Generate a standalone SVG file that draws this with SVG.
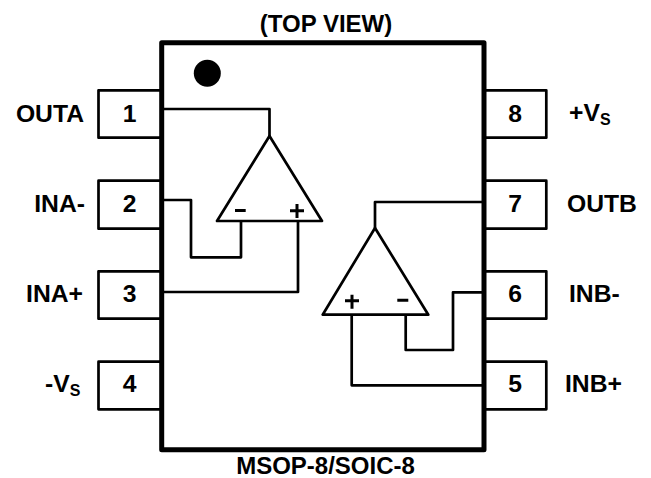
<svg xmlns="http://www.w3.org/2000/svg" width="651" height="478" viewBox="0 0 651 478">
<style>
text{font-family:"Liberation Sans",Arial,sans-serif;font-weight:700;font-size:24.7px;fill:#000}
.m{text-anchor:middle}
.e{text-anchor:end}
.pin{fill:#fff;stroke:#000;stroke-width:2.7;stroke-linejoin:round}
.w{fill:none;stroke:#000;stroke-width:2.7;stroke-linejoin:round}
.s{fill:none;stroke:#000;stroke-width:3}
.sub{font-size:16px}
.cap{font-size:24px}
</style>
<rect width="651" height="478" fill="#fff"/>
<g id="pin1"><rect class="pin" x="98.5" y="90.3" width="63" height="47.4"/><text class="m" x="129.5" y="122">1</text><text class="e" x="84" y="122">OUTA</text></g>
<g id="pin2"><rect class="pin" x="98.5" y="180.7" width="63" height="48"/><text class="m" x="129.5" y="212">2</text><text class="e" x="85" y="212">INA-</text></g>
<g id="pin3"><rect class="pin" x="98.5" y="271.3" width="63" height="47.4"/><text class="m" x="129.5" y="302">3</text><text class="e" x="83" y="302">INA+</text></g>
<g id="pin4"><rect class="pin" x="98.5" y="361.7" width="63" height="47.6"/><text class="m" x="129.5" y="392">4</text><text x="45" y="392">-V<tspan class="sub" dy="4">S</tspan></text></g>
<g id="pin8"><rect class="pin" x="484" y="90.3" width="62.3" height="47.4"/><text class="m" x="515" y="122">8</text><text x="569" y="121">+V<tspan class="sub" dy="4">S</tspan></text></g>
<g id="pin7"><rect class="pin" x="484" y="180.7" width="62.3" height="48"/><text class="m" x="515" y="212">7</text><text x="567" y="212">OUTB</text></g>
<g id="pin6"><rect class="pin" x="484" y="271.3" width="62.3" height="47.4"/><text class="m" x="515" y="302">6</text><text x="569" y="302">INB-</text></g>
<g id="pin5"><rect class="pin" x="484" y="361.7" width="62.3" height="47.6"/><text class="m" x="515" y="392">5</text><text x="565" y="392">INB+</text></g>
<g id="body"><rect x="161.7" y="42.7" width="322.3" height="407" fill="none" stroke="#000" stroke-width="5" stroke-linejoin="round"/><circle cx="207.3" cy="73.3" r="13.5" fill="#000"/></g>
<g id="connectors">
<path class="w" d="M163 109H269.5V136"/>
<path class="w" d="M163 200H191V257.3H241V221"/>
<path class="w" d="M163 292H298V221"/>
<path class="w" d="M482 202H375V228"/>
<path class="w" d="M482 292.3H453V350H405.7V314.7"/>
<path class="w" d="M482 385.3H351.7V314.7"/>
</g>
<g id="opampA"><path class="w" d="M269.5 136L217 221H322Z"/><path class="s" d="M235 210.5H245.7M290 210.7H304M297 204V218"/></g>
<g id="opampB"><path class="w" d="M375 228L322.7 314.7H428.3Z"/><path class="s" d="M345 300.7H359M352 294.7V308.7M397.3 300.3H408.3"/></g>
<text id="title" class="m cap" x="326" y="32">(TOP VIEW)</text>
<text id="caption" class="m cap" x="325.5" y="474">MSOP-8/SOIC-8</text>
</svg>
